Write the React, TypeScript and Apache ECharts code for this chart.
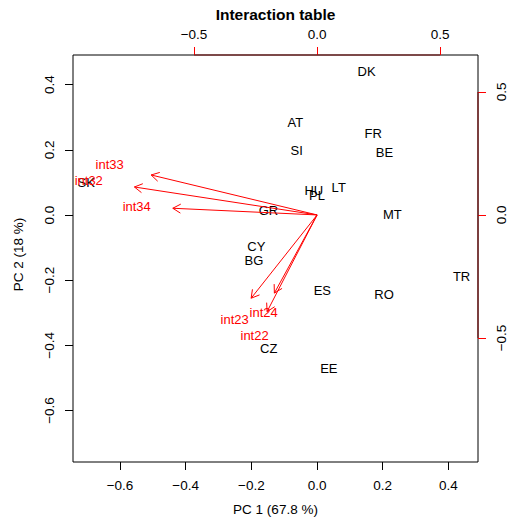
import React, { useEffect, useRef } from "react";
import * as echarts from "echarts";

const countries = ["DK", "AT", "FR", "SI", "BE", "HU", "PL", "LT", "GR", "MT", "TR", "CY", "BG", "ES", "RO", "CZ", "EE", "SK"];
const pc1 = [0.151, -0.066, 0.171, -0.062, 0.205, -0.010, 0.000, 0.066, -0.148, 0.229, 0.440, -0.185, -0.192, 0.016, 0.204, -0.147, 0.036, -0.703];
const pc2 = [0.440, 0.284, 0.251, 0.199, 0.193, 0.074, 0.059, 0.084, 0.013, 0.000, -0.189, -0.097, -0.141, -0.233, -0.245, -0.409, -0.472, 0.099];

const variables = ["int33", "int32", "int34", "int23", "int24", "int22"];
const load1 = [-0.843, -0.928, -0.733, -0.335, -0.217, -0.254];
const load2 = [0.203, 0.142, 0.034, -0.423, -0.397, -0.491];

const bottomTicks = [-0.6, -0.4, -0.2, 0.0, 0.2, 0.4];
const leftTicks = [-0.6, -0.4, -0.2, 0.0, 0.2, 0.4];
const topTicks = [-0.5, 0.0, 0.5];
const rightTicks = [-0.5, 0.0, 0.5];

const bottomRange = [-0.743, 0.49];
const leftRange = [-0.758, 0.491];
const topRange = [-0.992, 0.654];
const rightRange = [-1.004, 0.65];

const FONT = "'Liberation Sans', Arial, Helvetica, sans-serif";
const fmt = (v: number) => v.toFixed(1).replace("-", "\u2212");

export default function App() {
  const ref = useRef<HTMLDivElement>(null);
  useEffect(() => {
    const chart = echarts.init(ref.current!, null, { renderer: "svg" });
    const labelStyle = { fontSize: 13.5, color: "#000", fontFamily: FONT, formatter: fmt };
    const hiddenLine = { show: false, onZero: false };
    const option: any = {
      animation: false,
      textStyle: { fontFamily: FONT },
      grid: { left: 73, right: 32, top: 55, bottom: 63, show: true, borderColor: "#000", borderWidth: 1, backgroundColor: "transparent" },
      xAxis: [
        {
          type: "value", position: "bottom", min: bottomRange[0], max: bottomRange[1],
          axisLine: hiddenLine, splitLine: { show: false },
          axisTick: { show: true, customValues: bottomTicks, length: 8, lineStyle: { color: "#000" } },
          axisLabel: { ...labelStyle, customValues: bottomTicks, margin: 16 },
          name: "PC 1 (67.8 %)", nameLocation: "middle", nameGap: 40,
          nameTextStyle: { fontSize: 13.5, color: "#000", fontFamily: FONT },
        },
        {
          type: "value", position: "top", min: topRange[0], max: topRange[1],
          axisLine: hiddenLine, splitLine: { show: false },
          axisTick: { show: true, customValues: topTicks, length: 8, lineStyle: { color: "#ff0000" } },
          axisLabel: { ...labelStyle, customValues: topTicks, margin: 14 },
          name: "Interaction table", nameLocation: "middle", nameGap: 32,
          nameTextStyle: { fontSize: 15.5, fontWeight: "bold", color: "#000", fontFamily: FONT },
        },
      ],
      yAxis: [
        {
          type: "value", position: "left", min: leftRange[0], max: leftRange[1],
          axisLine: hiddenLine, splitLine: { show: false },
          axisTick: { show: true, customValues: leftTicks, length: 8, lineStyle: { color: "#000" } },
          axisLabel: { ...labelStyle, customValues: leftTicks, margin: 17, rotate: 90, align: "center", verticalAlign: "bottom" },
          name: "PC 2 (18 %)", nameLocation: "middle", nameGap: 48, nameRotate: 90,
          nameTextStyle: { fontSize: 13.5, color: "#000", fontFamily: FONT, padding: [0, 0, 0, 8] },
        },
        {
          type: "value", position: "right", min: rightRange[0], max: rightRange[1],
          axisLine: hiddenLine, splitLine: { show: false },
          axisTick: { show: true, customValues: rightTicks, length: 8, lineStyle: { color: "#ff0000" } },
          axisLabel: { ...labelStyle, customValues: rightTicks, margin: 16, rotate: 90, align: "center", verticalAlign: "top" },
        },
      ],
      series: [
        {
          type: "custom",
          coordinateSystem: "cartesian2d",
          xAxisIndex: 0, yAxisIndex: 0,
          data: countries.map((c, i) => [pc1[i], pc2[i]]),
          renderItem: (params: any, api: any) => {
            const p = api.coord([api.value(0), api.value(1)]);
            return {
              type: "text", x: p[0], y: p[1],
              style: { text: countries[params.dataIndex], fill: "#000", fontSize: 13, fontFamily: FONT, align: "center", verticalAlign: "middle" },
            };
          },
        },
        {
          type: "custom",
          coordinateSystem: "cartesian2d",
          xAxisIndex: 1, yAxisIndex: 1,
          data: variables.map((v, i) => [load1[i], load2[i]]),
          renderItem: (params: any, api: any) => {
            const x = api.value(0), y = api.value(1);
            const o = api.coord([0, 0]);
            const t = api.coord([0.8 * x, 0.8 * y]);
            const l = api.coord([x, y]);
            const ang = Math.atan2(t[1] - o[1], t[0] - o[0]);
            const len = 9, spread = Math.PI / 6;
            const h1 = [t[0] - len * Math.cos(ang - spread), t[1] - len * Math.sin(ang - spread)];
            const h2 = [t[0] - len * Math.cos(ang + spread), t[1] - len * Math.sin(ang + spread)];
            const st = { stroke: "#ff0000", lineWidth: 1, fill: null };
            return {
              type: "group",
              children: [
                { type: "line", shape: { x1: o[0], y1: o[1], x2: t[0], y2: t[1] }, style: st },
                { type: "polyline", shape: { points: [h1, t, h2] }, style: st },
                {
                  type: "text", x: l[0], y: l[1],
                  style: { text: variables[params.dataIndex], fill: "#ff0000", fontSize: 13, fontFamily: FONT, align: "center", verticalAlign: "middle" },
                },
              ],
            };
          },
        },
        {
          type: "custom",
          coordinateSystem: "cartesian2d",
          xAxisIndex: 1, yAxisIndex: 1,
          data: [[0, 0]],
          renderItem: (params: any, api: any) => {
            const a = api.coord([topTicks[0], rightRange[1]]);
            const b = api.coord([topTicks[topTicks.length - 1], rightRange[1]]);
            const c = api.coord([topRange[1], rightTicks[rightTicks.length - 1]]);
            const d = api.coord([topRange[1], rightTicks[0]]);
            const st = { stroke: "#7a1515", lineWidth: 1.2 };
            return {
              type: "group",
              children: [
                { type: "line", shape: { x1: a[0], y1: a[1], x2: b[0], y2: b[1] }, style: st },
                { type: "line", shape: { x1: c[0], y1: c[1], x2: d[0], y2: d[1] }, style: st },
              ],
            };
          },
        },
      ],
    };
    chart.setOption(option);
    return () => chart.dispose();
  }, []);
  return <div ref={ref} style={{ position: "fixed", left: 0, top: 0, width: 510, height: 525, background: "#fff" }} />;
}
